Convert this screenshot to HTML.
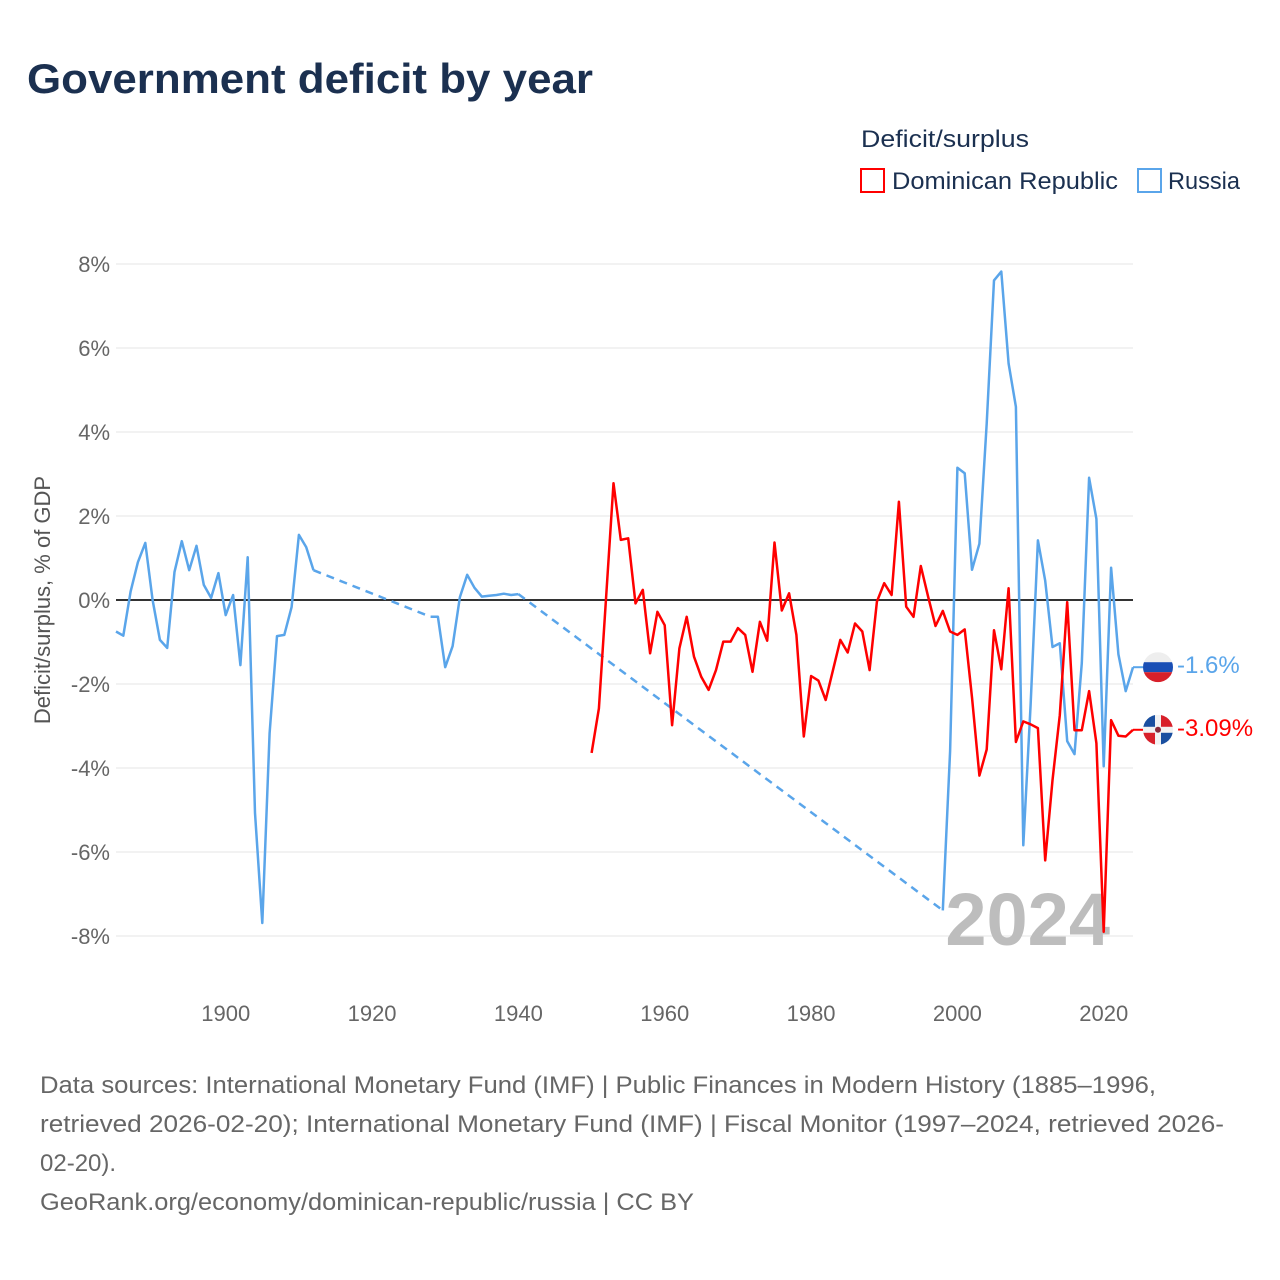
<!DOCTYPE html>
<html><head><meta charset="utf-8"><style>
body{margin:0;background:#fff;}
svg{display:block;font-family:"Liberation Sans",sans-serif;}
</style></head><body>
<svg id="chart" width="1280" height="1280" viewBox="0 0 1280 1280" xmlns="http://www.w3.org/2000/svg">
<text x="27" y="93" font-size="42" font-weight="bold" fill="#1b3050" textLength="566" lengthAdjust="spacingAndGlyphs">Government deficit by year</text>
<text x="861" y="147" font-size="24" fill="#1b3050" textLength="168" lengthAdjust="spacingAndGlyphs">Deficit/surplus</text>
<g>
<rect x="861" y="169" width="23" height="23" fill="none" stroke="#ff0000" stroke-width="2"/>
<text x="892" y="189" font-size="24" fill="#1b3050" textLength="226" lengthAdjust="spacingAndGlyphs">Dominican Republic</text>
</g>
<g>
<rect x="1138" y="169" width="23" height="23" fill="none" stroke="#5aa5ea" stroke-width="2"/>
<text x="1168" y="189" font-size="24" fill="#1b3050" textLength="72" lengthAdjust="spacingAndGlyphs">Russia</text>
</g>
<g id="grid"></g>
<g id="yticks"></g>
<g id="xticks"></g>
<text transform="translate(50,600) rotate(-90)" text-anchor="middle" font-size="22" fill="#555">Deficit/surplus, % of GDP</text>
<text x="1110" y="945" text-anchor="end" font-size="74" font-weight="bold" fill="#bdbdbd">2024</text>
<g id="series"></g>
<g font-size="24" fill="#666">
<text x="40" y="1093" textLength="1116" lengthAdjust="spacingAndGlyphs">Data sources: International Monetary Fund (IMF) | Public Finances in Modern History (1885–1996,</text>
<text x="40" y="1132" textLength="1184" lengthAdjust="spacingAndGlyphs">retrieved 2026-02-20); International Monetary Fund (IMF) | Fiscal Monitor (1997–2024, retrieved 2026-</text>
<text x="40" y="1171">02-20).</text>
<text x="40" y="1210" textLength="654" lengthAdjust="spacingAndGlyphs">GeoRank.org/economy/dominican-republic/russia | CC BY</text>
</g>
</svg>
<script>
const yTicks=[8,6,4,2,0,-2,-4,-6,-8];
const xTicks=[1900,1920,1940,1960,1980,2000,2020];
const ruYears1=[1885,1886,1887,1888,1889,1890,1891,1892,1893,1894,1895,1896,1897,1898,1899,1900,1901,1902,1903,1904,1905,1906,1907,1908,1909,1910,1911,1912];
const ruVals1=[-0.75,-0.85,0.2,0.9,1.36,0,-0.95,-1.14,0.67,1.4,0.71,1.29,0.36,0.05,0.64,-0.36,0.12,-1.55,1.02,-5.07,-7.69,-3.17,-0.86,-0.83,-0.17,1.55,1.26,0.71];
const ruYears2=[1928,1929,1930,1931,1932,1933,1934,1935,1936,1937,1938,1939,1940];
const ruVals2=[-0.4,-0.4,-1.6,-1.1,0.07,0.6,0.29,0.08,0.1,0.12,0.15,0.12,0.14];
const ruYears3=[1998,1999,2000,2001,2002,2003,2004,2005,2006,2007,2008,2009,2010,2011,2012,2013,2014,2015,2016,2017,2018,2019,2020,2021,2022,2023,2024];
const ruVals3=[-7.39,-3.6,3.15,3.02,0.72,1.34,4.2,7.61,7.82,5.63,4.6,-5.84,-2.5,1.42,0.46,-1.12,-1.03,-3.36,-3.67,-1.5,2.91,1.93,-3.96,0.77,-1.29,-2.17,-1.6];
const drYears=[1950,1951,1952,1953,1954,1955,1956,1957,1958,1959,1960,1961,1962,1963,1964,1965,1966,1967,1968,1969,1970,1971,1972,1973,1974,1975,1976,1977,1978,1979,1980,1981,1982,1983,1984,1985,1986,1987,1988,1989,1990,1991,1992,1993,1994,1995,1996,1997,1998,1999,2000,2001,2002,2003,2004,2005,2006,2007,2008,2009,2010,2011,2012,2013,2014,2015,2016,2017,2018,2019,2020,2021,2022,2023,2024];
const drVals=[-3.64,-2.58,0.1,2.78,1.43,1.47,-0.08,0.24,-1.27,-0.28,-0.6,-2.98,-1.15,-0.4,-1.35,-1.83,-2.14,-1.67,-0.99,-0.99,-0.67,-0.83,-1.71,-0.52,-0.97,1.37,-0.25,0.16,-0.83,-3.25,-1.81,-1.92,-2.38,-1.67,-0.95,-1.25,-0.56,-0.75,-1.67,-0.04,0.4,0.12,2.34,-0.16,-0.4,0.81,0.08,-0.62,-0.26,-0.75,-0.83,-0.7,-2.32,-4.18,-3.56,-0.72,-1.65,0.28,-3.38,-2.89,-2.96,-3.05,-6.2,-4.29,-2.74,-0.05,-3.1,-3.1,-2.17,-3.41,-7.9,-2.86,-3.23,-3.25,-3.09];
const ruLast="-1.6%", drLast="-3.09%";

const NS="http://www.w3.org/2000/svg";
const X=y=>116+(y-1885)*(1133-116)/(2024-1885);
const Y=v=>600-v*42;
function mk(tag,attrs,parent){const e=document.createElementNS(NS,tag);for(const k in attrs)e.setAttribute(k,attrs[k]);parent.appendChild(e);return e;}
const grid=document.getElementById('grid'),yt=document.getElementById('yticks'),xt=document.getElementById('xticks'),ser=document.getElementById('series');
yTicks.forEach(t=>{
  const l=mk('line',{x1:116,x2:1133,y1:Y(t),y2:Y(t),stroke:t===0?'#333':'#e6e6e6','stroke-width':t===0?2:1},t===0?ser:grid);
  
  
  const tx=mk('text',{x:110,y:Y(t)+8,'text-anchor':'end','font-size':22,fill:'#666'},yt);
  tx.textContent=t+'%';
  
  
});
xTicks.forEach(t=>{
  const tx=mk('text',{x:X(t),y:1021,'text-anchor':'middle','font-size':22,fill:'#666'},xt);
  tx.textContent=t;
  
  
});
function pts(ys,vs){return ys.map((y,i)=>X(y).toFixed(1)+','+Y(vs[i]).toFixed(1)).join(' ');}
function line(ys,vs,color,name,dash){
  const p=mk('polyline',{points:pts(ys,vs),fill:'none',stroke:color,'stroke-width':2.5,'stroke-linejoin':'round'},ser);
  if(dash)p.setAttribute('stroke-dasharray','8,6');
  
  
}
const RU='#5aa5ea',DR='#ff0000';
line([ruYears1[ruYears1.length-1],ruYears2[0]],[ruVals1[ruVals1.length-1],ruVals2[0]],RU,'russia-gap-1',true);
line([ruYears2[ruYears2.length-1],ruYears3[0]],[ruVals2[ruVals2.length-1],ruVals3[0]],RU,'russia-gap-2',true);
line(ruYears1,ruVals1,RU,'russia-line-1',false);
line(ruYears2,ruVals2,RU,'russia-line-2',false);
line(ruYears3,ruVals3,RU,'russia-line-3',false);
line(drYears,drVals,DR,'dominican-republic-line',false);
function endLabel(v,color,text,name,flag){
  const y=Y(v), x0=X(2024);
  const c=mk('line',{x1:x0,x2:1143,y1:y,y2:y,stroke:color,'stroke-width':2},ser);
  
  
  const g=mk('g',{},ser);
  
  
  flag(g,1158,y);
  const t=mk('text',{x:1177,y:y+6,'font-size':24,fill:color},ser);
  t.textContent=text;
  
  
}
const cp=document.createElementNS(NS,'defs');document.getElementById('chart').appendChild(cp);
cp.innerHTML='<clipPath id="c1"><circle cx="1158" cy="'+Y(ruVals3[ruVals3.length-1])+'" r="15"/></clipPath><clipPath id="c2"><circle cx="1158" cy="'+Y(drVals[drVals.length-1])+'" r="15"/></clipPath>';
endLabel(ruVals3[ruVals3.length-1],RU,ruLast,'russia',(g,cx,cy)=>{
  const h=mk('g',{'clip-path':'url(#c1)'},g);
  mk('rect',{x:cx-15,y:cy-15,width:30,height:10,fill:'#eee'},h);
  mk('rect',{x:cx-15,y:cy-5,width:30,height:10,fill:'#1a4fb5'},h);
  mk('rect',{x:cx-15,y:cy+5,width:30,height:10,fill:'#d8202a'},h);
});
endLabel(drVals[drVals.length-1],DR,drLast,'dominican-republic',(g,cx,cy)=>{
  const h=mk('g',{'clip-path':'url(#c2)'},g);
  mk('rect',{x:cx-15,y:cy-15,width:30,height:30,fill:'#f2f2f2'},h);
  mk('rect',{x:cx-15,y:cy-15,width:12,height:12,fill:'#1a4fa0'},h);
  mk('rect',{x:cx+3,y:cy-15,width:12,height:12,fill:'#d8202a'},h);
  mk('rect',{x:cx-15,y:cy+3,width:12,height:12,fill:'#d8202a'},h);
  mk('rect',{x:cx+3,y:cy+3,width:12,height:12,fill:'#1a4fa0'},h);
  mk('circle',{cx:cx,cy:cy,r:3,fill:'#8a2a3a'},h);
});
</script>
</body></html>
